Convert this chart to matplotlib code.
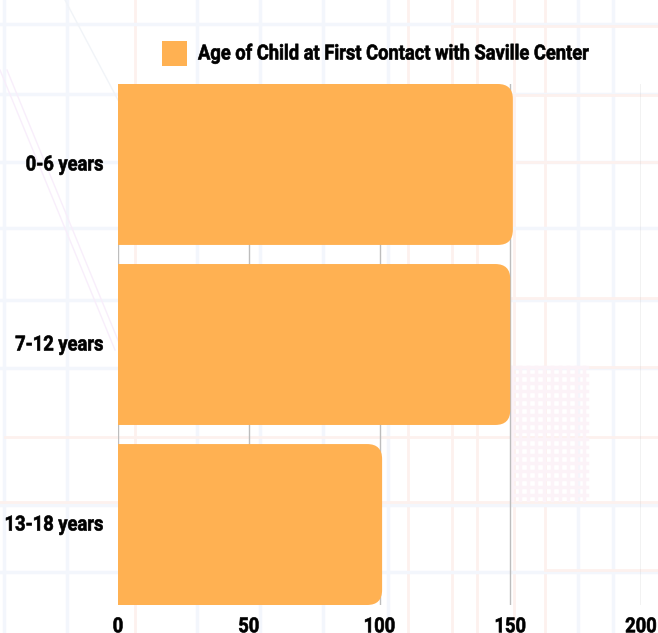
import matplotlib
matplotlib.use('Agg')
import matplotlib.pyplot as plt
from matplotlib.path import Path
from matplotlib.patches import PathPatch, Rectangle
from matplotlib.patheffects import AbstractPathEffect
from matplotlib.transforms import Affine2D

plt.rcParams['font.family'] = ['Roboto', 'DejaVu Sans']
plt.rcParams['font.weight'] = 'bold'

categories = ['0-6 years', '7-12 years', '13-18 years']
values = [151, 150, 101]
x_ticks = [0, 50, 100, 150, 200]
legend_label = 'Age of Child at First Contact with Saville Center'

bar_color = '#ffb152'
W, H = 658, 633
FONT_SIZE = 15
SQUEEZE = 0.88  # no condensed Roboto installed, so narrow the glyphs by hand

# faint road map behind the chart, in pixels of the picture
map_blue_v = [4, 67, 197, 260, 323, 388, 578, 613]
map_red_v = [135, 408, 452, 477, 514, 545]
map_blue_h = [24, 94, 162, 228, 300, 368, 505, 572]
map_red_h = [(5, 658, 437), (452, 658, 26), (485, 658, 95), (490, 658, 162),
             (400, 658, 298), (470, 658, 367), (0, 658, 502), (545, 658, 570)]
map_diagonals = [((0, 70), (115, 350), '#f8eefb'), ((7, 70), (122, 350), '#f8eefb'),
                 ((65, 0), (118, 100), '#f1f4f8')]


class Squeeze(AbstractPathEffect):
    def __init__(self, x0, sx=SQUEEZE, dx=0, dy=0):
        super().__init__()
        self.x0, self.sx, self.dx, self.dy = x0, sx, dx, dy

    def draw_path(self, renderer, gc, tpath, affine, rgbFace=None):
        squeeze = Affine2D().translate(-self.x0, 0).scale(self.sx, 1).translate(self.x0 + self.dx, self.dy)
        # thin stroke in the text colour, the reference glyphs are heavier
        gc0 = renderer.new_gc()
        gc0.copy_properties(gc)
        gc0.set_linewidth(0.45)
        gc0.set_foreground(rgbFace)
        renderer.draw_path(gc0, tpath, affine + squeeze, rgbFace)
        gc0.restore()


def rounded_bar(y, value, height, rx, ry):
    top, bottom = y - height / 2, y + height / 2
    verts = [(0, top), (value - rx, top), (value, top), (value, top + ry),
             (value, bottom - ry), (value, bottom), (value - rx, bottom),
             (0, bottom), (0, top)]
    codes = [Path.MOVETO, Path.LINETO, Path.CURVE3, Path.CURVE3,
             Path.LINETO, Path.CURVE3, Path.CURVE3,
             Path.LINETO, Path.CLOSEPOLY]
    return PathPatch(Path(verts, codes), facecolor=bar_color, edgecolor='none', zorder=3)


fig = plt.figure(figsize=(W / 100, H / 100), dpi=100, facecolor='white')

bg = fig.add_axes([0, 0, 1, 1], zorder=0)
bg.axis('off')
for x in map_blue_v:
    bg.axvline(x, color='#f3f6fc', lw=2.5)
for x in map_red_v:
    bg.axvline(x, color='#fdf1ee', lw=2)
for y in map_blue_h:
    bg.axhline(y, color='#f3f6fc', lw=2.5)
for x0, x1, y in map_red_h:
    bg.plot([x0, x1], [y, y], color='#fdf1ee', lw=2)
for p0, p1, c in map_diagonals:
    bg.plot([p0[0], p1[0]], [p0[1], p1[1]], color=c, lw=1)
# town street grid
for x in range(512, 588, 8):
    bg.plot([x, x], [367, 500], color='#fcf3f8', lw=2.5)
for y in range(367, 500, 8):
    bg.plot([512, 587], [y, y], color='#fcf3f8', lw=2.5)
bg.set_xlim(0, W)
bg.set_ylim(H, 0)

ax = fig.add_axes([118 / W, 1 - 605 / H, (641 - 118) / W, (605 - 84) / H], zorder=1)
ax.patch.set_alpha(0)
ax.set_xlim(0, 200)
ax.set_ylim(2.447, -0.447)
for spine in ax.spines.values():
    spine.set_visible(False)
ax.xaxis.grid(True, color='#bdbdbd', lw=1)
ax.set_axisbelow(True)
ax.set_xticks(x_ticks)
ax.set_yticks(range(len(categories)))
ax.set_yticklabels(categories)
ax.tick_params(length=0, labelsize=FONT_SIZE)
ax.tick_params(axis='x', pad=6)

for i, v in enumerate(values):
    ax.add_patch(rounded_bar(i, v, 0.894, 15 / 2.615, 15 / 180))

# tick label texts only exist after a first draw
fig.canvas.draw()
renderer = fig.canvas.get_renderer()

# y labels end at x=103 once narrowed; anchor them on the left so they stay inside the picture
for tick in ax.yaxis.get_major_ticks():
    label = tick.label1
    label.set_ha('left')
    left = 104 - label.get_window_extent(renderer).width * SQUEEZE
    tick.set_pad((118 - left) * 0.72)
    label.set_path_effects([Squeeze(left, dy=1.5)])

# x labels anchored on their right end, drawn lower than the layout box
for tick, t in zip(ax.xaxis.get_major_ticks(), x_ticks):
    label = tick.label1
    width = label.get_window_extent(renderer).width
    label.set_ha('right')
    label.set_path_effects([Squeeze(118 + t * 2.615, dx=width * SQUEEZE / 2, dy=-4)])

fig.patches.append(Rectangle((162 / W, 1 - 66 / H), 25 / W, 25 / H, transform=fig.transFigure,
                             facecolor=bar_color, edgecolor='none', zorder=5))
fig.text(198 / W, 1 - 53 / H, legend_label, fontsize=FONT_SIZE, va='center', ha='left', color='black',
         path_effects=[Squeeze(198, dy=-1)])

fig.savefig('out.png', dpi=100)
